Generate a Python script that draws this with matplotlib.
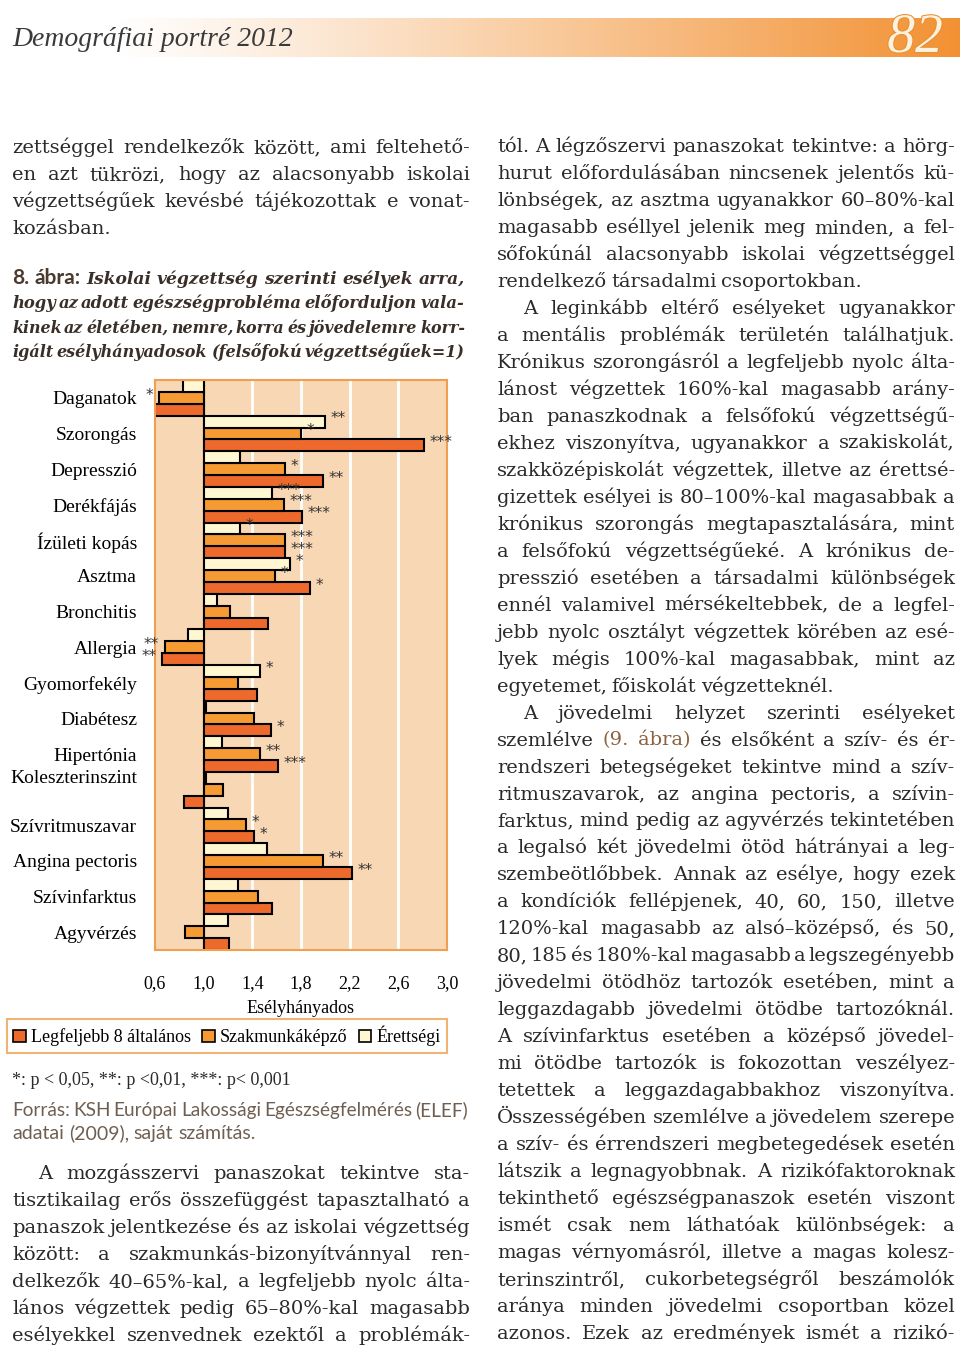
import numpy as np
import matplotlib
matplotlib.use('agg')
import matplotlib.pyplot as plt
from matplotlib.patches import Patch
from matplotlib.transforms import ScaledTranslation
import matplotlib.patheffects as pe

W, H = 960, 1348

# --- chart data (odds ratios, tertiary education = 1) ---
categories = ['Daganatok', 'Szorongás', 'Depresszió', 'Derékfájás', 'Ízületi kopás',
              'Asztma', 'Bronchitis', 'Allergia', 'Gyomorfekély', 'Diabétesz',
              'Hipertónia', 'Koleszterinszint', 'Szívritmuszavar', 'Angina pectoris',
              'Szívinfarktus', 'Agyvérzés']
erettsegi = [0.83, 2.00, 1.30, 1.56, 1.30, 1.71, 1.11, 0.87, 1.46, 1.02, 1.15, 1.02, 1.20, 1.52, 1.28, 1.20]
szakmunkas = [0.63, 1.80, 1.67, 1.66, 1.67, 1.59, 1.22, 0.68, 1.28, 1.41, 1.46, 1.16, 1.35, 1.98, 1.45, 0.85]
max8 = [0.60, 2.81, 1.98, 1.81, 1.67, 1.87, 1.53, 0.66, 1.44, 1.55, 1.61, 0.84, 1.41, 2.22, 1.56, 1.21]
sig_erettsegi = ['', '**', '', '***', '*', '*', '', '', '*', '', '', '', '', '', '', '']
sig_szakmunkas = ['*', '*', '*', '***', '***', '*', '', '**', '', '', '**', '', '*', '**', '', '']
sig_max8 = ['', '***', '**', '***', '***', '*', '', '**', '', '*', '***', '', '*', '**', '', '']
series_labels = ['Legfeljebb 8 általános', 'Szakmunkáképző', 'Érettségi']
xticks = [0.6, 1.0, 1.4, 1.8, 2.2, 2.6, 3.0]
xtick_labels = ['0,6', '1,0', '1,4', '1,8', '2,2', '2,6', '3,0']

# --- page text ---
left_top = ['zettséggel rendelkezők között, ami feltehető-',
            'en azt tükrözi, hogy az alacsonyabb iskolai',
            'végzettségűek kevésbé tájékozottak e vonat-',
            'kozásban.']
caption = ['8. ábra: Iskolai végzettség szerinti esélyek arra,',
           'hogy az adott egészségprobléma előforduljon vala-',
           'kinek az életében, nemre, korra és jövedelemre korr-',
           'igált esélyhányadosok (felsőfokú végzettségűek=1)']
left_bottom = ['A mozgásszervi panaszokat tekintve sta-',
               'tisztikailag erős összefüggést tapasztalható a',
               'panaszok jelentkezése és az iskolai végzettség',
               'között: a szakmunkás-bizonyítvánnyal ren-',
               'delkezők 40–65%-kal, a legfeljebb nyolc álta-',
               'lános végzettek pedig 65–80%-kal magasabb',
               'esélyekkel szenvednek ezektől a problémák-']
right_col = ['tól. A légzőszervi panaszokat tekintve: a hörg-',
             'hurut előfordulásában nincsenek jelentős kü-',
             'lönbségek, az asztma ugyanakkor 60–80%-kal',
             'magasabb eséllyel jelenik meg minden, a fel-',
             'sőfokúnál alacsonyabb iskolai végzettséggel',
             'rendelkező társadalmi csoportokban.',
             'A leginkább eltérő esélyeket ugyanakkor',
             'a mentális problémák területén találhatjuk.',
             'Krónikus szorongásról a legfeljebb nyolc álta-',
             'lánost végzettek 160%-kal magasabb arány-',
             'ban panaszkodnak a felsőfokú végzettségű-',
             'ekhez viszonyítva, ugyanakkor a szakiskolát,',
             'szakközépiskolát végzettek, illetve az érettsé-',
             'gizettek esélyei is 80–100%-kal magasabbak a',
             'krónikus szorongás megtapasztalására, mint',
             'a felsőfokú végzettségűeké. A krónikus de-',
             'presszió esetében a társadalmi különbségek',
             'ennél valamivel mérsékeltebbek, de a legfel-',
             'jebb nyolc osztályt végzettek körében az esé-',
             'lyek mégis 100%-kal magasabbak, mint az',
             'egyetemet, főiskolát végzetteknél.',
             'A jövedelmi helyzet szerinti esélyeket',
             'szemlélve (9. ábra) és elsőként a szív- és ér-',
             'rendszeri betegségeket tekintve mind a szív-',
             'ritmuszavarok, az angina pectoris, a szívin-',
             'farktus, mind pedig az agyvérzés tekintetében',
             'a legalsó két jövedelmi ötöd hátrányai a leg-',
             'szembeötlőbbek. Annak az esélye, hogy ezek',
             'a kondíciók fellépjenek, 40, 60, 150, illetve',
             '120%-kal magasabb az alsó–középső, és 50,',
             '80, 185 és 180%-kal magasabb a legszegényebb',
             'jövedelmi ötödhöz tartozók esetében, mint a',
             'leggazdagabb jövedelmi ötödbe tartozóknál.',
             'A szívinfarktus esetében a középső jövedel-',
             'mi ötödbe tartozók is fokozottan veszélyez-',
             'tetettek a leggazdagabbakhoz viszonyítva.',
             'Összességében szemlélve a jövedelem szerepe',
             'a szív- és érrendszeri megbetegedések esetén',
             'látszik a legnagyobbnak. A rizikófaktoroknak',
             'tekinthető egészségpanaszok esetén viszont',
             'ismét csak nem láthatóak különbségek: a',
             'magas vérnyomásról, illetve a magas kolesz-',
             'terinszintről, cukorbetegségről beszámolók',
             'aránya minden jövedelmi csoportban közel',
             'azonos. Ezek az eredmények ismét a rizikó-']
right_indent = {6, 21}
right_last = {5, 20}

SERIF = 'Liberation Serif'
BODY = 'DejaVu Serif'
TXT = '#2a2a2a'

fig = plt.figure(figsize=(W / 100, H / 100), dpi=100)
fig.patch.set_facecolor('white')


def fx(x):
    return x / W


def fy(y):
    return 1 - y / H


def place_line(words, x0, x1, y, justify=True, size=14, **style):
    items = []
    for w in words:
        txt, extra = w if isinstance(w, tuple) else (w, {})
        kw = dict(style)
        kw['fontsize'] = size
        kw.update(extra)
        items.append(fig.text(fx(x0), fy(y), txt, va='baseline', ha='left', **kw))
    r = fig.canvas.get_renderer()
    space = size * 100 / 72 * 0.25
    for _ in range(3):
        widths = [t.get_window_extent(r).width for t in items]
        need = sum(widths) + 0.6 * space * (len(items) - 1)
        if need <= x1 - x0 or not justify:
            break
        for t in items:
            t.set_fontsize(t.get_fontsize() * (x1 - x0) / need)
    gap = space
    if justify and len(items) > 1:
        gap = (x1 - x0 - sum(widths)) / (len(items) - 1)
    x = x0
    for t, w in zip(items, widths):
        t.set_x(fx(x))
        x += w + gap


# header band
band = fig.add_axes([0, fy(57), 1, 39 / H])
t = np.linspace(0, 1, 400)
a = np.clip((t - 0.12) / 0.88, 0, 1) ** 1.1
orange = np.array([0.95, 0.57, 0.20])
img = (1 - a)[:, None] * np.ones(3) + a[:, None] * orange
band.imshow(img[None, :, :], aspect='auto', extent=[0, 1, 0, 1])
band.axis('off')
fig.text(fx(12), fy(46), 'Demográfiai portré 2012', fontsize=20, style='italic',
         family=SERIF, color='#3a3a3a', va='baseline')
fig.text(fx(915), fy(52), '82', fontsize=40, style='italic', family=SERIF,
         color='#fdf1df', ha='center', va='baseline',
         path_effects=[pe.withStroke(linewidth=1.5, foreground='#e8902e')])

# body text
for i, line in enumerate(left_top):
    place_line(line.split(), 12, 470, 153 + 27 * i, justify=(i < 3),
               family=BODY, color=TXT)

for i, line in enumerate(caption):
    words = []
    for j, w in enumerate(line.split()):
        if i == 0 and j < 2:
            words.append((w, dict(family='Lato', weight='bold', style='normal',
                                  color='#4a3a30', fontsize=15)))
        else:
            words.append(w)
    place_line(words, 12, 465, 284 + 24.3 * i, size=12.3, family=BODY,
               weight='bold', style='italic', color='#3a2e28')

for i, line in enumerate(left_bottom):
    place_line(line.split(), 38 if i == 0 else 12, 470, 1179 + 27 * i,
               family=BODY, color=TXT)

for i, line in enumerate(right_col):
    words = [(w, dict(color='#8a6440')) if w in ('(9.', 'ábra)') else w
             for w in line.split()]
    place_line(words, 523 if i in right_indent else 497, 955, 152 + 26.98 * i,
               justify=(i not in right_last), family=BODY, color=TXT)

# chart
ax = fig.add_axes([fx(155), fy(950), 292 / W, 570 / H])
ax.set_facecolor('#f8d7b4')
n = len(categories)
y = np.arange(n)
h = 1 / 3
colors = ['#ee6a2c', '#f69a34', '#fff6d2']
series = [(max8, sig_max8, y + h), (szakmunkas, sig_szakmunkas, y), (erettsegi, sig_erettsegi, y - h)]
for xv in [1.4, 1.8, 2.2, 2.6]:
    ax.axvline(xv, color='white', lw=2, zorder=1)
ax.axvline(1.0, color='#ee9a42', lw=1.6, zorder=1)
for (vals, sigs, yy), c in zip(series, colors):
    vals = np.array(vals)
    ax.barh(yy, vals - 1, left=1, height=h, color=c, edgecolor='black', lw=1.5, zorder=2)
    for v, s, yp in zip(vals, sigs, yy):
        if s:
            ax.annotate(s, (v, yp), xytext=(4 if v >= 1 else -4, 2), textcoords='offset points',
                        ha='left' if v >= 1 else 'right', va='center', fontsize=11,
                        family='DejaVu Sans', color='#333333', zorder=3)
ax.set_xlim(0.6, 3.0)
ax.set_ylim(n - 0.5, -0.5)
ax.set_xticks(xticks)
ax.set_xticklabels(xtick_labels, family=SERIF, fontsize=13)
ax.set_yticks(y)
ax.set_yticklabels(categories, family=SERIF, fontsize=14)
ax.tick_params(length=0)
ax.tick_params(axis='x', pad=18)
ax.tick_params(axis='y', pad=13)
ax.set_xlabel('Esélyhányados', family=SERIF, fontsize=13, labelpad=6)
for sp in ax.spines.values():
    sp.set_color('#eea050')
    sp.set_linewidth(1.5)
lbl = ax.get_yticklabels()[categories.index('Koleszterinszint')]
lbl.set_transform(lbl.get_transform() + ScaledTranslation(0, 0.13, fig.dpi_scale_trans))

handles = [Patch(facecolor=c, edgecolor='black', lw=1.2) for c in colors]
leg = fig.legend(handles, series_labels, loc='center', bbox_to_anchor=(fx(227), fy(1036)),
                 ncol=3, prop={'family': SERIF, 'size': 13}, frameon=True, fancybox=False,
                 handlelength=0.7, handleheight=0.7, handletextpad=0.3, columnspacing=0.6,
                 borderpad=0.35, borderaxespad=0)
leg.get_frame().set_edgecolor('#eea050')
leg.get_frame().set_linewidth(1.5)

fig.text(fx(12), fy(1085), '*: p < 0,05, **: p <0,01, ***: p< 0,001', family=SERIF,
         fontsize=13, color=TXT, va='baseline')
place_line('Forrás: KSH Európai Lakossági Egészségfelmérés (ELEF)'.split(), 12, 468, 1116,
           size=14, family='Lato', color='#6f5f52')
place_line('adatai (2009), saját számítás.'.split(), 12, 468, 1139, justify=False,
           size=14, family='Lato', color='#6f5f52')

fig.savefig('out.png', dpi=100)
